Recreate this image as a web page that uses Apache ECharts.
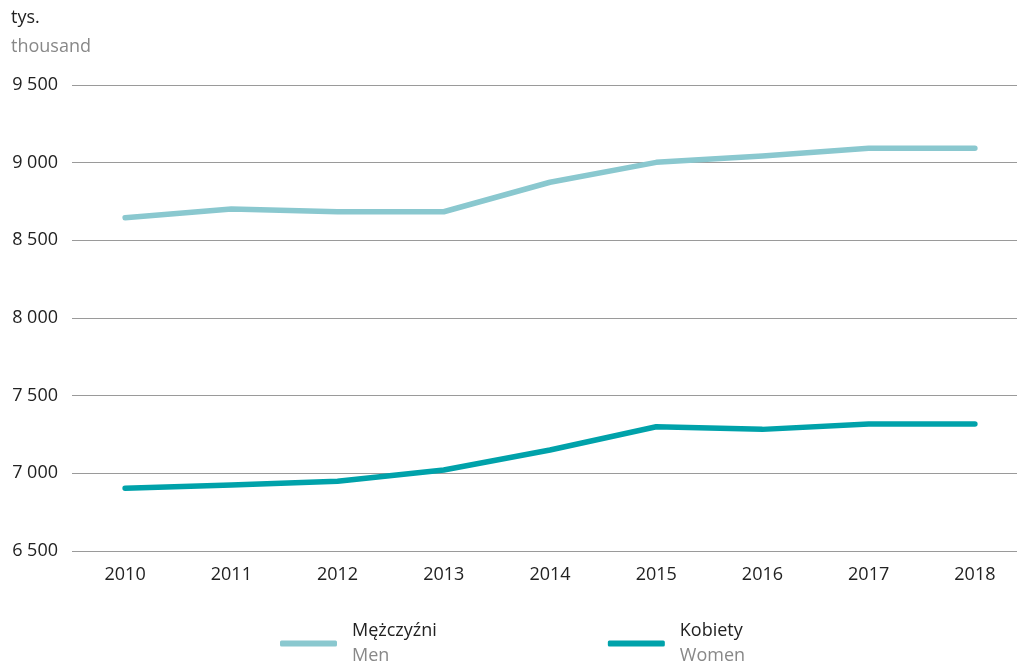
<!DOCTYPE html>
<html>
<head>
<meta charset="utf-8">
<script src="https://cdn.jsdelivr.net/npm/echarts@6/dist/echarts.min.js"></script>
<style>
  html, body { margin: 0; padding: 0; background: #fff; }
  #chart { width: 1017px; height: 662px; }
</style>
</head>
<body>
<div id="chart"></div>
<script>
// Dane wykresu
const years = ["2010", "2011", "2012", "2013", "2014", "2015", "2016", "2017", "2018"];
const men = [8645, 8702, 8684, 8684, 8874, 9002, 9043, 9093, 9093];
const women = [6904, 6925, 6949, 7021, 7150, 7300, 7283, 7318, 7318];
const seriesNames = ["Mężczyźni", "Kobiety"];
const seriesNamesEn = ["Men", "Women"];
const unitPl = "tys.";
const unitEn = "thousand";

const font = "'Open Sans', 'Noto Sans', sans-serif";

const chart = echarts.init(document.getElementById("chart"));

const option = {
    animation: false,
    textStyle: { fontFamily: font },
    title: {
        text: unitPl,
        subtext: unitEn,
        left: 6,
        top: 4,
        itemGap: 11,
        textStyle: { fontSize: 18, fontWeight: "normal", color: "#222", fontFamily: font },
        subtextStyle: { fontSize: 18, color: "#888", fontFamily: font }
    },
    // wykres wychodzi poza prawą krawędź, jak w oryginale
    grid: { left: 72, width: 956, top: 85, bottom: 111, outerBoundsMode: "none", containLabel: false },
    xAxis: {
        type: "category",
        data: years,
        boundaryGap: true,
        axisLine: { show: false },
        axisTick: { show: false },
        axisLabel: { fontSize: 18, color: "#222", margin: 15 }
    },
    yAxis: {
        type: "value",
        min: 6500,
        max: 9500,
        interval: 500,
        axisLine: { show: false },
        axisTick: { show: false },
        splitLine: { lineStyle: { color: "#9a9a9a", width: 1.2 } },
        axisLabel: {
            fontSize: 18,
            color: "#222",
            margin: 14,
            formatter: (v) => String(v).replace(/\B(?=(\d{3})+(?!\d))/g, " ")
        }
    },
    legend: {
        top: 617,
        left: 275,
        itemGap: 171,
        itemWidth: 57,
        itemHeight: 6,
        icon: "roundRect",
        data: seriesNames,
        formatter: (name) => `{a|${name}}\n{b|${seriesNamesEn[seriesNames.indexOf(name)]}}`,
        textStyle: {
            padding: [0, 0, 0, 10],
            rich: {
                a: { fontSize: 18, color: "#222", lineHeight: 25, fontFamily: font },
                b: { fontSize: 18, color: "#888", lineHeight: 25, fontFamily: font }
            }
        }
    },
    series: [
        {
            name: seriesNames[0],
            type: "line",
            data: men,
            symbol: "none",
            lineStyle: { color: "#8ac8cf", width: 5.5, cap: "round", join: "round" },
            itemStyle: { color: "#8ac8cf" }
        },
        {
            name: seriesNames[1],
            type: "line",
            data: women,
            symbol: "none",
            lineStyle: { color: "#00a2aa", width: 5.5, cap: "round", join: "round" },
            itemStyle: { color: "#00a2aa" }
        }
    ]
};

chart.setOption(option);
</script>
</body>
</html>
